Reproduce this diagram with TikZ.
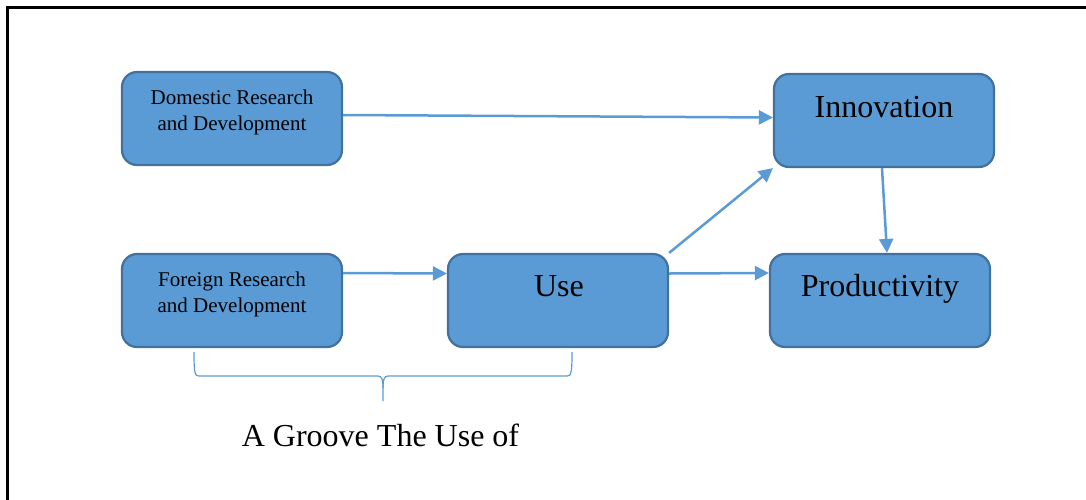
\documentclass[tikz,border=0pt]{standalone}
\usepackage{fontspec}
\setmainfont{Liberation Serif}
\usetikzlibrary{arrows.meta,calc}

\definecolor{boxfill}{HTML}{5B9BD5}
\definecolor{boxline}{HTML}{41719C}
\definecolor{flow}{HTML}{5B9BD5}

\tikzset{
  x=1pt, y=-1pt,
  stage/.style={draw=boxline, fill=boxfill, line width=2.2pt,
    rounded corners=15pt, minimum width=220pt, minimum height=93pt,
    inner sep=0pt},
  small/.style={font=\fontsize{21}{26}\selectfont, align=center,
    inner sep=0pt, anchor=north},
  big/.style={font=\fontsize{32}{38}\selectfont, inner sep=0pt, anchor=base},
  link/.style={draw=flow, line width=2.5pt,
    -{Triangle[length=14pt,width=14pt]}},
  brace/.style={draw=flow, line width=1.2pt}
}

\begin{document}
\begin{tikzpicture}
\useasboundingbox (0,0) rectangle (1086,499);

% outer frame
\draw[line width=3pt] (7.5,520) -- (7.5,7.5) -- (1100,7.5);

% stages
\node[stage] (dom) at (232,118.5) {};
\node[stage] (for) at (232,300.5) {};
\node[stage] (use) at (558,300.5) {};
\node[stage] (pro) at (880,300.5) {};
\node[stage] (inn) at (884,120.5) {};

% labels
\node[small] (domtxt) at (232,89.5) {Domestic Research\\and Development};
\node[small] (fortxt) at (232,271.5) {Foreign Research\\and Development};
\node[big] (usetxt) at (559,296) {Use};
\node[big] (protxt) at (880,296) {Productivity};
\node[big] (inntxt) at (884,117) {Innovation};

% flows
\draw[link] ($(dom.east)+(0,-3.5)$) -- ($(inn.west)+(0,-3)$);
\draw[link] ($(for.east)+(0,-27.5)$) -- ($(use.west)+(0,-27)$);
\draw[link] ($(use.east)+(0,-27)$) -- ($(pro.west)+(0,-27.5)$);
\draw[link] (use.north east) -- (inn.south west);
\draw[link] ($(inn.south)+(-2,0)$) -- ($(pro.north)+(7,0)$);

% brace under the lower row
\draw[brace] (194,352) .. controls (194,374) and (195,376) .. (199,376)
  -- (378,376) .. controls (382,376) and (383,380) .. (383,388) -- (383,401);
\draw[brace] (572,352) .. controls (572,374) and (571,376) .. (567,376)
  -- (388,376) .. controls (384,376) and (383,380) .. (383,388);

\node[big] (note) at (380.5,446) {A Groove The Use of};
\end{tikzpicture}
\end{document}
